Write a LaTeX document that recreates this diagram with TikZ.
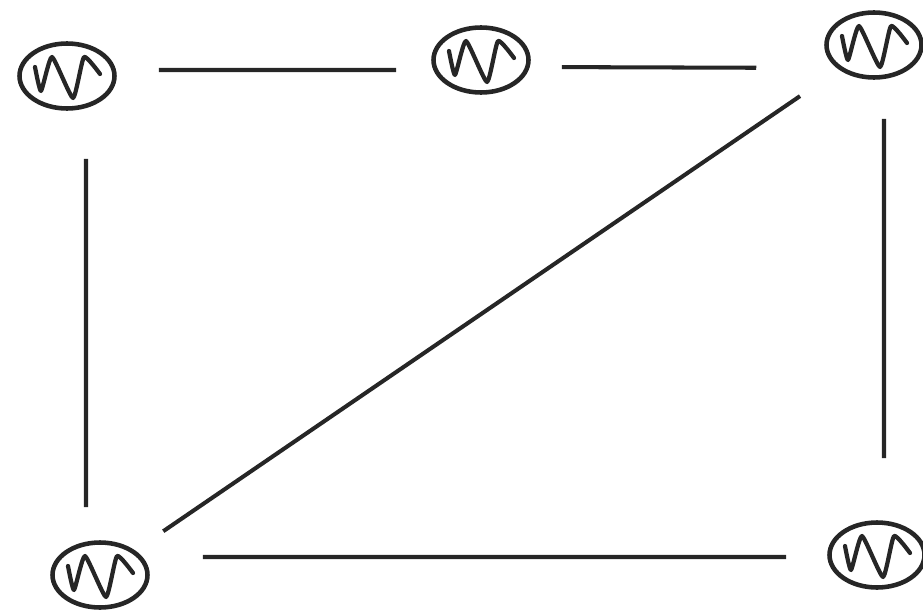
\documentclass[tikz,border=0pt]{standalone}
\usetikzlibrary{shapes.geometric}

\begin{document}
\begin{tikzpicture}[
  x=0.02cm, y=-0.02cm,
  blob/.style={ellipse, draw=black!85, line width=2.6pt, minimum width=1.9cm, minimum height=1.3cm,
    path picture={\draw[black!85, line width=2.4pt, line cap=round, line join=round,
      shift={(path picture bounding box.center)}]
      plot[smooth, tension=0.3] coordinates {(-32,-9) (-26,15) (-15,-19) (6,22) (17,-19) (33,-2)};}},
  edge/.style={draw=black!85, line width=2.3pt}
]
  \useasboundingbox (0,0) rectangle (923,612);

  \node (A) [blob] at (67,76) {};
  \node (B) [blob] at (481,60) {};
  \node (C) [blob] at (874,45) {};
  \node (D) [blob] at (100,575) {};
  \node (E) [blob] at (877,555) {};

  \draw [edge, shorten <=0.84cm, shorten >=0.7cm] ([yshift=0.12cm]A.east) -- ([yshift=-0.2cm]B.west);
  \draw [edge, shorten <=0.62cm, shorten >=1.36cm] ([yshift=-0.14cm]B.east) -- ([yshift=-0.46cm]C.west);
  \draw [edge, shorten <=0.96cm, shorten >=0.66cm] ([xshift=0.38cm]A.south) -- ([xshift=-0.28cm]D.north);
  \draw [edge, shorten <=0.94cm, shorten >=0.68cm] (C.south west) -- (D.north east);
  \draw [edge, shorten <=0.78cm, shorten >=1.24cm] ([xshift=0.2cm]C.south) -- ([xshift=0.14cm]E.north);
  \draw [edge, shorten <=1.06cm, shorten >=0.82cm] ([yshift=0.36cm]D.east) -- ([yshift=-0.04cm]E.west);
\end{tikzpicture}
\end{document}
